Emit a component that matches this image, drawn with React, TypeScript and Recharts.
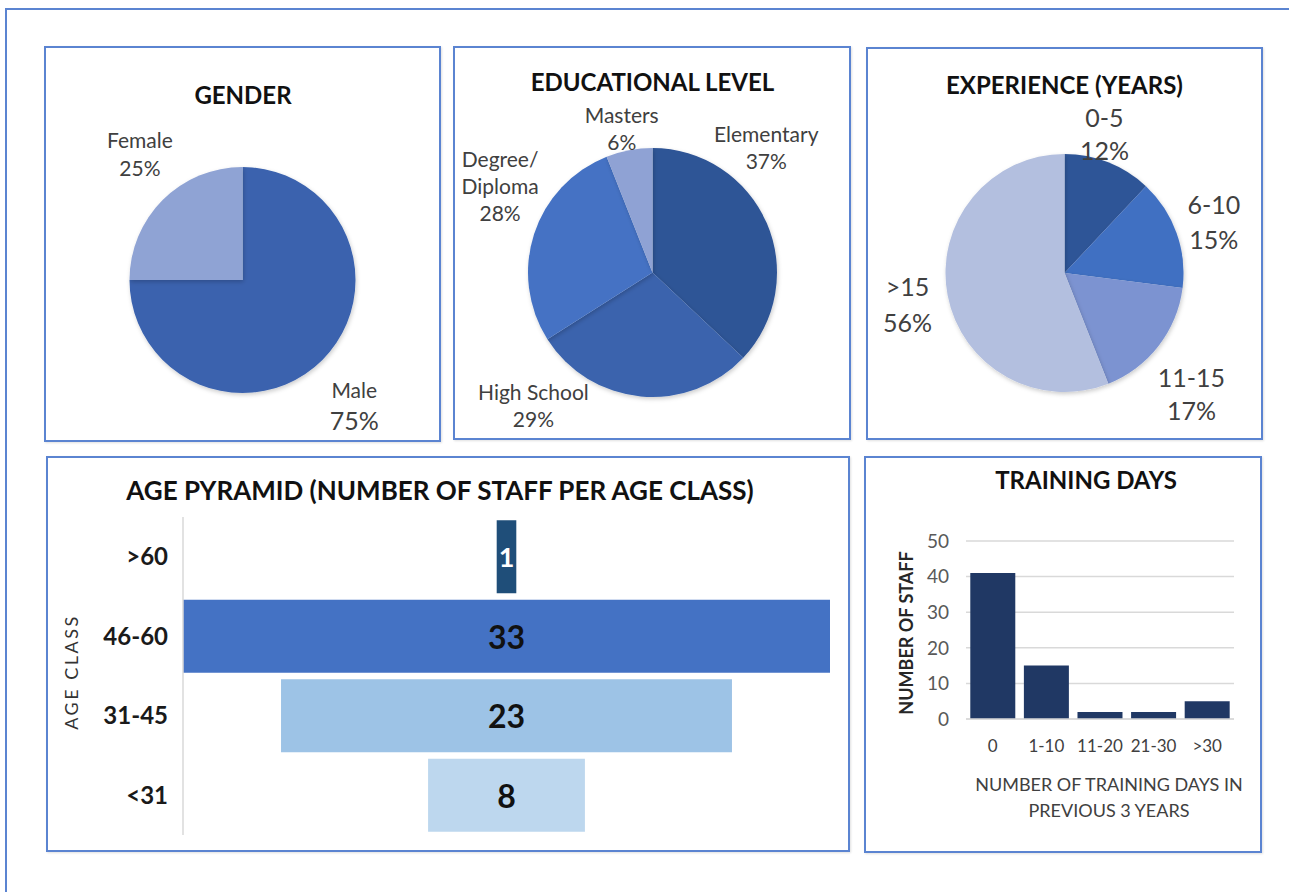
import React from 'react';
import { PieChart, Pie, Cell, BarChart, Bar, XAxis, YAxis, CartesianGrid, LabelList } from 'recharts';

// ---- data ----
const genderNames = ['Male', 'Female'];
const genderValues = [75, 25];
const genderColors = ['#3a62ae', '#8fa3d4'];

const eduNames = ['Elementary', 'High School', 'Degree/\nDiploma', 'Masters'];
const eduValues = [37, 29, 28, 6];
const eduColors = ['#2f5496', '#3a63ad', '#4472c4', '#8fa2d4'];

const expNames = ['0-5', '6-10', '11-15', '>15'];
const expValues = [12, 15, 17, 56];
const expColors = ['#2f5597', '#4170c2', '#7b93d1', '#b3bfdf'];

const ageClasses = ['>60', '46-60', '31-45', '<31'];
const staffPerAge = [1, 33, 23, 8];
const ageColors = ['#1f4e79', '#4472c4', '#9dc3e6', '#bdd7ee'];
const ageLabelColors = ['#ffffff', '#111111', '#111111', '#111111'];

const trainingBins = ['0', '1-10', '11-20', '21-30', '>30'];
const staffPerBin = [41, 15, 2, 2, 5];
const trainingTicks = [0, 10, 20, 30, 40, 50];

// label placement around each pie: angle (deg, counter-clockwise from 3 o'clock), distance from centre
type LabelPos = { a: number; r: number; size: number; lh: number; valueSize?: number };
const genderLabelPos: LabelPos[] = [
  { a: -48, r: 167, size: 21, lh: 31, valueSize: 25 },
  { a: 129, r: 163, size: 21, lh: 28 },
];
const eduLabelPos: LabelPos[] = [
  { a: 48, r: 170, size: 21, lh: 27 },
  { a: -132, r: 178, size: 21, lh: 27 },
  { a: 150, r: 176, size: 21, lh: 27 },
  { a: 102, r: 148, size: 21, lh: 27 },
];
const expLabelPos: LabelPos[] = [
  { a: 74, r: 145, size: 25, lh: 33 },
  { a: 19, r: 158, size: 25, lh: 35 },
  { a: -43.5, r: 175, size: 25, lh: 33 },
  { a: 191, r: 160, size: 25, lh: 36 },
];

const FONT = 'Lato, "Open Sans", sans-serif';
const BORDER = '#5b84d1';

const Title = ({ x, y, children, size = 24 }: { x: number; y: number; children: React.ReactNode; size?: number }) => (
  <div
    style={{
      position: 'absolute',
      left: x,
      top: y,
      transform: 'translate(-50%, -50%)',
      whiteSpace: 'nowrap',
      fontWeight: 700,
      fontSize: size,
      lineHeight: 1,
      color: '#111',
    }}
  >
    {children}
  </div>
);

const Panel = ({ left, top, width, height, children }: any) => (
  <div style={{ position: 'absolute', left, top, width, height }}>
    <div
      style={{
        position: 'absolute',
        inset: 0,
        border: `2px solid ${BORDER}`,
        boxSizing: 'border-box',
        boxShadow: '1px 1px 2px rgba(0,0,0,0.12)',
      }}
    />
    {children}
  </div>
);

const PiePanel = ({ names, values, colors, labels, width, height, cx, cy, r }: any) => {
  const data = names.map((name: string, i: number) => ({ name, value: values[i] }));
  const renderLabel = (props: any) => {
    const { cx: x0, cy: y0, index } = props;
    const p: LabelPos = labels[index];
    const rad = (p.a * Math.PI) / 180;
    const x = x0 + p.r * Math.cos(rad);
    const y = y0 - p.r * Math.sin(rad);
    const lines = [...String(data[index].name).split('\n'), `${data[index].value}%`];
    const y1 = y - ((lines.length - 1) * p.lh) / 2;
    return (
      <text x={x} y={y1} textAnchor="middle" dominantBaseline="central" fill="#404040" fontFamily={FONT} fontSize={p.size}>
        {lines.map((l, i) => (
          <tspan
            key={i}
            x={x}
            dy={i === 0 ? 0 : p.lh}
            fontSize={i === lines.length - 1 && p.valueSize ? p.valueSize : p.size}
          >
            {l}
          </tspan>
        ))}
      </text>
    );
  };
  return (
    <PieChart width={width} height={height} margin={{ top: 0, right: 0, bottom: 0, left: 0 }}>
      <defs>
        <filter id="pieShadow" x="-10%" y="-10%" width="120%" height="120%">
          <feDropShadow dx="1" dy="2" stdDeviation="2" floodColor="#000" floodOpacity="0.2" />
        </filter>
      </defs>
      <Pie
        data={data}
        dataKey="value"
        nameKey="name"
        cx={cx}
        cy={cy}
        outerRadius={r}
        startAngle={90}
        endAngle={-270}
        stroke="none"
        label={renderLabel}
        labelLine={false}
        isAnimationActive={false}
        style={{ filter: 'url(#pieShadow)' }}
      >
        {data.map((_: any, i: number) => (
          <Cell key={i} fill={colors[i]} />
        ))}
      </Pie>
    </PieChart>
  );
};

const AgePyramid = () => {
  const maxStaff = Math.max(...staffPerAge);
  const data = ageClasses.map((age, i) => ({
    age,
    staff: staffPerAge[i],
    pad: (maxStaff - staffPerAge[i]) / 2,
  }));
  const renderValue = (props: any) => {
    const { x, y, width, height, index } = props;
    return (
      <text
        x={x + width / 2}
        y={y + height / 2}
        textAnchor="middle"
        dominantBaseline="central"
        fontFamily={FONT}
        fontWeight={700}
        fontSize={index === 0 ? 27 : 32}
        fill={ageLabelColors[index]}
      >
        {data[index].staff}
      </text>
    );
  };
  const renderYLabel = (props: any) => {
    const { viewBox } = props;
    const x = viewBox.x + 25;
    const y = viewBox.y + viewBox.height / 2 - 4;
    return (
      <text
        x={x}
        y={y}
        transform={`rotate(-90 ${x} ${y})`}
        textAnchor="middle"
        dominantBaseline="central"
        fontFamily={FONT}
        fontSize={18}
        letterSpacing={2.5}
        fill="#333"
      >
        AGE CLASS
      </text>
    );
  };
  return (
    <BarChart
      width={804}
      height={396}
      data={data}
      layout="vertical"
      margin={{ top: 61, right: 20, bottom: 17, left: 0 }}
      barCategoryGap="4%"
    >
      <XAxis type="number" domain={[0, maxStaff]} hide />
      <YAxis
        type="category"
        dataKey="age"
        width={137}
        axisLine={{ stroke: '#d9d9d9', strokeWidth: 1.5 }}
        tickLine={false}
        tickSize={0}
        tickMargin={15}
        tick={{ fill: '#1a1a1a', fontSize: 24, fontWeight: 700, fontFamily: FONT }}
        label={{ content: renderYLabel }}
      />
      <Bar dataKey="pad" stackId="a" fill="transparent" isAnimationActive={false} />
      <Bar dataKey="staff" stackId="a" isAnimationActive={false}>
        {data.map((_, i) => (
          <Cell key={i} fill={ageColors[i]} />
        ))}
        <LabelList dataKey="staff" content={renderValue} />
      </Bar>
    </BarChart>
  );
};

const TrainingDays = () => {
  const data = trainingBins.map((bin, i) => ({ bin, staff: staffPerBin[i] }));
  const renderYLabel = (props: any) => {
    const { viewBox } = props;
    const x = viewBox.x + 42;
    const y = viewBox.y + viewBox.height / 2 + 3;
    return (
      <text
        x={x}
        y={y}
        transform={`rotate(-90 ${x} ${y})`}
        textAnchor="middle"
        dominantBaseline="central"
        fontFamily={FONT}
        fontWeight={700}
        fontSize={18}
        fill="#262626"
      >
        NUMBER OF STAFF
      </text>
    );
  };
  const renderXLabel = (props: any) => {
    const { viewBox } = props;
    const x = viewBox.x + viewBox.width / 2 + 9;
    const y = viewBox.y;
    return (
      <text x={x} textAnchor="middle" dominantBaseline="central" fontFamily={FONT} fontSize={18} fill="#404040">
        <tspan x={x} y={y + 64.5}>NUMBER OF TRAINING DAYS IN</tspan>
        <tspan x={x} y={y + 90.5}>PREVIOUS 3 YEARS</tspan>
      </text>
    );
  };
  return (
    <BarChart
      width={398}
      height={397}
      data={data}
      margin={{ top: 85, right: 28, bottom: 0, left: 0 }}
      barCategoryGap="8%"
    >
      <CartesianGrid vertical={false} stroke="#d9d9d9" strokeWidth={1.5} />
      <XAxis
        dataKey="bin"
        height={134}
        axisLine={{ stroke: '#d9d9d9', strokeWidth: 1.5 }}
        tickLine={false}
        tickSize={0}
        tickMargin={21}
        interval={0}
        tick={{ fill: '#404040', fontSize: 17, fontFamily: FONT }}
        label={{ content: renderXLabel }}
      />
      <YAxis
        width={102}
        domain={[0, 50]}
        ticks={trainingTicks}
        axisLine={false}
        tickLine={false}
        tickSize={0}
        tickMargin={17}
        tick={{ fill: '#595959', fontSize: 19, fontFamily: FONT }}
        label={{ content: renderYLabel }}
      />
      <Bar dataKey="staff" fill="#203864" isAnimationActive={false} />
    </BarChart>
  );
};

export default function App() {
  return (
    <div
      style={{
        position: 'fixed',
        left: 0,
        top: 0,
        width: 1289,
        height: 892,
        overflow: 'hidden',
        background: '#fff',
        fontFamily: FONT,
      }}
    >
      <div
        style={{
          position: 'absolute',
          left: 5,
          top: 8,
          width: 1320,
          height: 920,
          border: `2px solid ${BORDER}`,
        }}
      />

      <Panel left={44} top={46} width={397} height={396}>
        <PiePanel
          names={genderNames}
          values={genderValues}
          colors={genderColors}
          labels={genderLabelPos}
          width={397}
          height={396}
          cx={198.5}
          cy={234}
          r={113}
        />
        <Title x={199} y={49}>GENDER</Title>
      </Panel>

      <Panel left={453} top={46} width={398} height={394}>
        <PiePanel
          names={eduNames}
          values={eduValues}
          colors={eduColors}
          labels={eduLabelPos}
          width={398}
          height={394}
          cx={199.5}
          cy={226.5}
          r={124.5}
        />
        <Title x={199.5} y={36}>EDUCATIONAL LEVEL</Title>
      </Panel>

      <Panel left={866} top={47} width={397} height={393}>
        <PiePanel
          names={expNames}
          values={expValues}
          colors={expColors}
          labels={expLabelPos}
          width={397}
          height={393}
          cx={198.5}
          cy={226}
          r={119}
        />
        <Title x={198.5} y={38}>EXPERIENCE (YEARS)</Title>
      </Panel>

      <Panel left={46} top={456} width={804} height={396}>
        <AgePyramid />
        <Title x={394} y={34} size={26}>AGE PYRAMID (NUMBER OF STAFF PER AGE CLASS)</Title>
      </Panel>

      <Panel left={864} top={456} width={398} height={397}>
        <TrainingDays />
        <Title x={222} y={24}>TRAINING DAYS</Title>
      </Panel>
    </div>
  );
}
